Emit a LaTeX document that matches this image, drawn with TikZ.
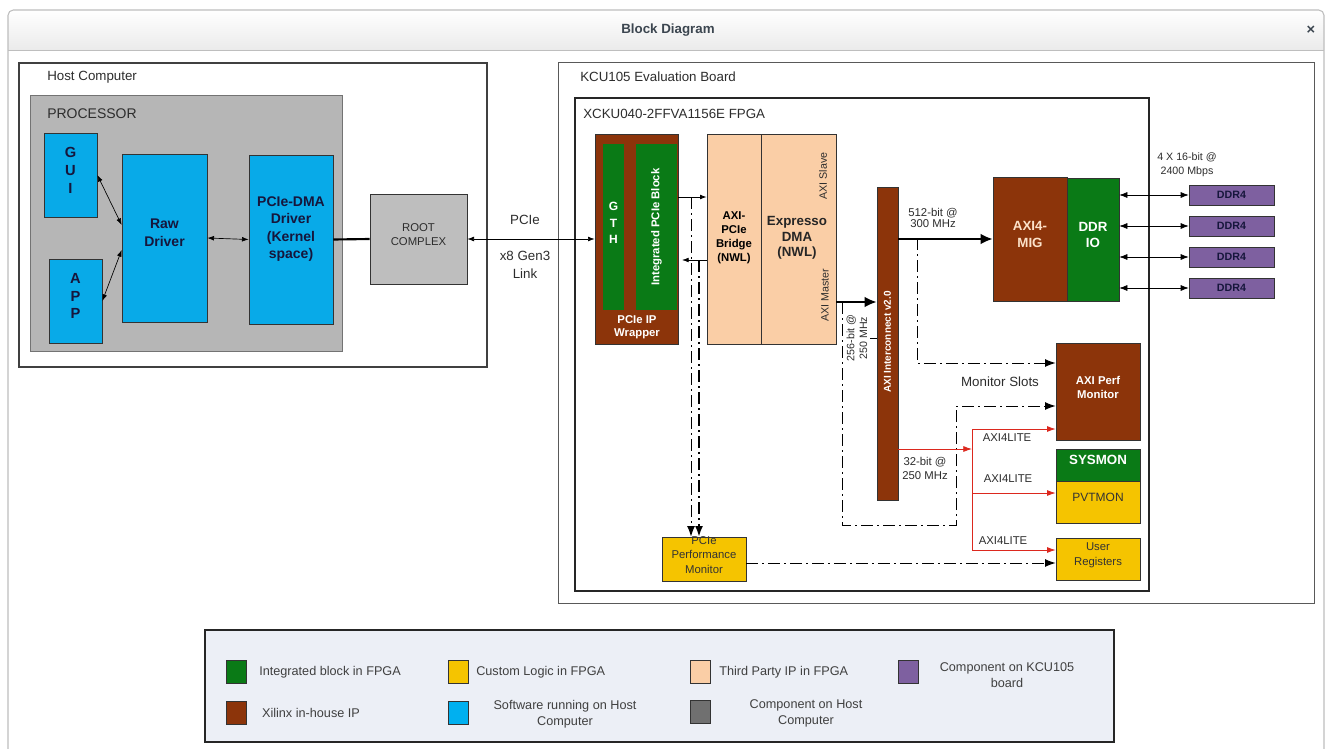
\documentclass[tikz,border=0pt]{standalone}
\usepackage{fontspec}
\setmainfont{Liberation Sans}
\usetikzlibrary{arrows.meta,fit,calc}
\definecolor{hblue}{RGB}{8,170,232}
\definecolor{procgray}{RGB}{182,182,182}
\definecolor{rootgray}{RGB}{190,190,190}
\definecolor{xgreen}{RGB}{10,122,22}
\definecolor{xbrown}{RGB}{140,52,10}
\definecolor{peach}{RGB}{250,206,166}
\definecolor{yel}{RGB}{245,196,0}
\definecolor{purp}{RGB}{126,96,160}
\definecolor{legfill}{RGB}{236,239,246}
\definecolor{swgray}{RGB}{112,112,112}
\definecolor{swblue}{RGB}{0,176,240}
\definecolor{txt}{RGB}{45,45,45}
\definecolor{navy}{RGB}{22,22,60}
\definecolor{redl}{RGB}{220,40,30}
\definecolor{titlec}{RGB}{60,70,80}
\definecolor{winb}{RGB}{190,190,190}
\newcommand\fz[2]{\fontsize{#1}{#2}\selectfont}
\begin{document}
\begin{tikzpicture}[x=0.75pt,y=-0.75pt,
  box/.style={draw=black!80,line width=0.5pt,inner sep=0pt,align=center},
  lbl/.style={inner sep=0pt,text=txt,align=center},
  tip/.style={-{Latex[length=5pt,width=3.6pt]}},
  dtip/.style={{Latex[length=5pt,width=3.6pt]}-{Latex[length=5pt,width=3.6pt]}},
  btip/.style={-{Latex[length=9pt,width=8pt]}},
  mtip/.style={-{Latex[length=8pt,width=6pt]}},
  ddash/.style={dash pattern=on 9pt off 3pt on 1.5pt off 3pt,line width=0.75pt},
  red/.style={draw=redl,line width=0.6pt,-{Latex[length=6.5pt,width=4.5pt]}},
  sw/.style={draw=black!80,line width=0.5pt,minimum width=15pt,minimum height=17pt,inner sep=0pt}]
\useasboundingbox (0,0) rectangle (1331,749);
\fill[white] (0,0) rectangle (1331,749);
% window
\shade[top color=white, bottom color=black!8] (8,50) {[rounded corners=4pt] -- (8,10) -- (1324,10)} -- (1324,50) -- cycle;
\draw[winb,line width=0.8pt] (8,749) -- (8,50) {[rounded corners=4pt] -- (8,10) -- (1324,10)} -- (1324,749);
\draw[winb,line width=0.6pt] (8,50) -- (1324,50);
\node[font=\bfseries\fz{10}{12},text=titlec] (title) at (668,30) {Block Diagram};
\node[font=\bfseries\fz{11}{12},text=titlec] (close) at (1311,30) {×};

% ---------------- host
\node[draw=black!75,line width=0.8pt,fit={(19,63)(487,367)},inner sep=0pt] (host) {};
\node[lbl,anchor=west,font=\fz{10}{12}] (lhost) at (47,77) {Host Computer};
\node[draw=black!55,fill=procgray,line width=0.6pt,fit={(30,95)(342,351)},inner sep=0pt] (proc) {};
\node[lbl,anchor=west,font=\fz{10.5}{12}] (lproc) at (47,114) {PROCESSOR};
\node[box,fill=hblue,fit={(44,133)(97,217)},font=\bfseries\fz{11}{13.5},text=navy] (gui) {G\\U\\I};
\node[box,fill=hblue,fit={(49,259)(102,343)},font=\bfseries\fz{11}{13}, text=navy] (app) {A\\P\\P};
\node[box,fill=hblue,fit={(122,154)(207,322)},font=\bfseries\fz{10.5}{13.5},text=navy] (raw) {Raw\\Driver};
\node[box,fill=hblue,fit={(249,155)(333,324)}] (dma) {};
\node[lbl,font=\bfseries\fz{10.5}{13.2},text=navy] (ldma) at (291,229) {PCIe-DMA\\Driver\\(Kernel\\space)};
\node[box,fill=rootgray,fit={(370,194)(467,284)},font=\fz{8.5}{10.5},text=txt] (root) {ROOT\\COMPLEX};
\draw[dtip,line width=0.5pt] (gui.east) -- (raw.west |- 0,225);
\draw[dtip,line width=0.5pt] (app.east) -- (raw.west |- 0,250);
\draw[dtip,line width=0.5pt] (raw.east) -- (dma.west);
\draw[line width=1.6pt] (dma.east) -- (root.west);

% ---------------- board
\node[draw=black!65,line width=0.7pt,fit={(558,62)(1314,603)},inner sep=0pt] (board) {};
\node[lbl,anchor=west,font=\fz{10}{12}] (lboard) at (580,77) {KCU105 Evaluation Board};
\node[draw=black!85,line width=0.8pt,fit={(575,98)(1149,591)},inner sep=0pt] (fpga) {};
\node[lbl,anchor=west,font=\fz{10}{12}] (lfpga) at (583,114) {XCKU040-2FFVA1156E FPGA};

\node[box,fill=xbrown,fit={(595,134)(678,344)}] (wrap) {};
\node[box,draw=none,fill=xgreen,fit={(603,144)(624,310)},font=\bfseries\fz{9}{12.5},text=white] (gth) {G\\T\\H};
\node[box,draw=none,fill=xgreen,fit={(636,144)(677,310)}] (ipb) {};
\node[lbl,rotate=90,font=\bfseries\fz{8.5}{10},text=white] (lipb) at (ipb.center) {Integrated PCIe Block};
\node[lbl,font=\bfseries\fz{8.5}{10},text=white] (lwrap) at (637,327) {PCIe IP\\Wrapper};

\node[box,fill=peach,fit={(707,134)(761,344)}] (bridge) {};
\node[lbl,font=\bfseries\fz{8.5}{10.5},text=black] (lbridge) at (734,238) {AXI-\\PCIe\\Bridge\\(NWL)};
\node[box,fill=peach,fit={(761,134)(836,344)}] (xdma) {};
\node[lbl,font=\bfseries\fz{10}{11.5},text=black!85] (lxdma) at (797,238) {Expresso\\DMA\\(NWL)};
\node[lbl,rotate=90,font=\fz{8}{10}] (lslave) at (823,176) {AXI Slave};
\node[lbl,rotate=90,font=\fz{8}{10}] (lmaster) at (825,295) {AXI Master};

% PCIe link
\draw[dtip,line width=0.5pt] (root.east) -- (wrap.west);
\node[lbl,font=\fz{10}{12}] (lpcie) at (525,220) {PCIe};
\node[lbl,font=\fz{10}{14}] (llink) at (525,265) {x8 Gen3\\Link};

% wrapper <-> bridge
\draw[tip,line width=0.6pt] (wrap.east |- 0,197) -- (bridge.west |- 0,197);
\draw[tip,line width=0.6pt] (bridge.west |- 0,260) -- (682,260);

% AXI interconnect
\node[box,fill=xbrown,fit={(877,187)(898,500)}] (ic) {};
\node[lbl,rotate=90,font=\bfseries\fz{7.5}{9},text=white] (lic) at (887.5,342) {AXI Interconnect v2.0};
\draw[btip,line width=1.6pt] (xdma.east |- 0,302) -- (ic.west |- 0,302);
\node[lbl,rotate=90,font=\fz{8}{9.5}] (l256) at (857,338) {256-bit @\\250 MHz};
\draw[line width=0.5pt] (870,338) -- (ic.west |- 0,338);

% MIG / DDR
\node[box,fill=xbrown,fit={(993,177)(1067,301)},font=\bfseries\fz{10}{12.5},text=peach!60] (mig) {AXI4-\\MIG};
\node[box,fill=xgreen,fit={(1067,178)(1119,301)},font=\bfseries\fz{10}{12.5},text=white] (ddrio) {DDR\\IO};
\draw[btip,line width=1.6pt] (ic.east |- mig.west) -- (mig.west);
\node[lbl,font=\fz{8.5}{8.5}] (l512) at (933,218) {512-bit @\\300 MHz};

\foreach \i/\y in {1/195,2/226,3/257,4/288}{
  \node[box,fill=purp,minimum width=63.75pt,minimum height=15pt,font=\bfseries\fz{8}{9},text=navy] (d\i) at (1231.5,\y) {DDR4};
  \draw[{Latex[length=6pt,width=4.5pt]}-{Latex[length=6pt,width=4.5pt]},line width=0.5pt] (ddrio.east |- d\i.west) -- (d\i.west);
}
\node[lbl,font=\fz{8}{10.5}] (l4x) at (1187,165) {4 X 16-bit @\\2400 Mbps};

% monitors
\node[box,fill=xbrown,fit={(1056,343)(1140,440)},font=\bfseries\fz{8.5}{11},text=white] (apm) {AXI Perf\\Monitor};
\node[box,fill=xgreen,fit={(1056,449)(1140,481)},font=\bfseries\fz{10}{12},text=white] (sysmon) {SYSMON};
\node[box,fill=yel,fit={(1056,481)(1140,523)},font=\fz{9}{11},text=black!80] (pvt) {PVTMON};
\node[box,fill=yel,fit={(1056,538)(1140,580)},font=\fz{8.5}{11},text=black!80] (ureg) {User\\Registers};
\node[box,fill=yel,fit={(662,537)(746,581)},font=\fz{8.5}{11},text=black!80] (ppm) {PCIe\\Performance\\Monitor};
\node[lbl,font=\fz{10}{12}] (lslots) at (1000,382) {Monitor Slots};

% dash-dot monitor lines
\coordinate (m1) at (691,197);
\coordinate (m2) at (699,260);
\draw[ddash,mtip] (m1) -- (m1 |- ppm.north);
\draw[ddash,line width=1.3pt,mtip] (m2) -- (m2 |- ppm.north);
\coordinate (m3) at (917,238);
\draw[ddash,mtip] (m3) -- (917,363) -- (apm.west |- 0,363);
\coordinate (m4) at (842,302);
\draw[ddash,mtip] (m4) -- (842,525) -- (956,525) -- (956,406) -- (apm.west |- 0,406);
\draw[ddash,mtip] (ppm.east |- 0,563) -- (ureg.west |- 0,563);

% AXI4LITE
\coordinate (rj) at (972,449);
\draw[red] (ic.east |- 0,449) -- (rj);
\draw[draw=redl,line width=0.6pt] (972,429) -- (972,550);
\draw[red] (972,429) -- (apm.west |- 0,429);
\draw[red] (972,493) -- (pvt.west |- 0,493);
\draw[red] (972,550) -- (ureg.west |- 0,550);
\node[lbl,font=\fz{8.5}{10}] (la1) at (1007,438) {AXI4LITE};
\node[lbl,font=\fz{8.5}{10}] (la2) at (1008,479) {AXI4LITE};
\node[lbl,font=\fz{8.5}{10}] (la3) at (1003,541) {AXI4LITE};
\node[lbl,font=\fz{8.5}{10.5}] (l32) at (925,468) {32-bit @\\250 MHz};

% ---------------- legend
\node[draw=black!85,fill=legfill,line width=0.8pt,fit={(205,630)(1114,742)},inner sep=0pt] (legend) {};
\tikzset{ltx/.style={lbl,font=\fz{9.5}{12},text=black!75}}
\node[sw,fill=xgreen] (s1) at (236.5,672) {};
\node[ltx,anchor=west] (t1) at (259,672) {Integrated block in FPGA};
\node[sw,fill=yel] (s2) at (458,672) {};
\node[ltx,anchor=west] (t2) at (476,672) {Custom Logic in FPGA};
\node[sw,fill=peach] (s3) at (700,672) {};
\node[ltx,anchor=west] (t3) at (719,672) {Third Party IP in FPGA};
\node[sw,fill=purp] (s4) at (908,672) {};
\node[ltx] (t4) at (1007,675) {Component on KCU105\\board};
\node[sw,fill=xbrown] (s5) at (236.5,713) {};
\node[ltx] (t5) at (311,713) {Xilinx in-house IP};
\node[sw,fill=swblue] (s6) at (458,713) {};
\node[ltx] (t6) at (565,714) {Software running on Host\\Computer};
\node[sw,fill=swgray] (s7) at (700,712) {};
\node[ltx] (t7) at (806,713) {Component on Host\\Computer};
\end{tikzpicture}
\end{document}
